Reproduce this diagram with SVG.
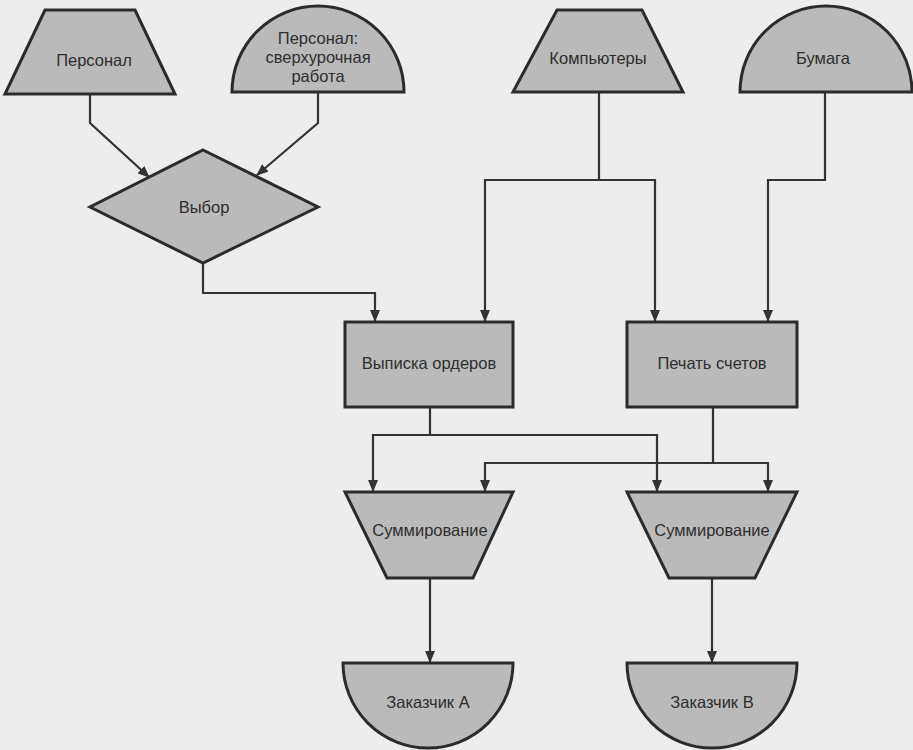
<svg xmlns="http://www.w3.org/2000/svg" width="913" height="750" viewBox="0 0 913 750">
<style>
.shape{fill:#bababa;stroke:#2b2b2b;stroke-width:3;stroke-linejoin:miter}
.lbl{font-family:"Liberation Sans",Arial,sans-serif;font-size:16.5px;fill:#2e2e2e;text-anchor:middle}
.conn{fill:none;stroke:#333;stroke-width:2.2}
</style>
<defs>
<marker id="arr" markerUnits="userSpaceOnUse" markerWidth="12" markerHeight="10" refX="11" refY="5" orient="auto">
<path d="M0,0 L12,5 L0,10 z" fill="#333"/>
</marker>
</defs>
<rect width="913" height="750" fill="#ededed"/>
<g id="connectors">
<path class="conn" d="M90,94 V123 L149,177" marker-end="url(#arr)"/>
<path class="conn" d="M318,92 V123 L257,175" marker-end="url(#arr)"/>
<path class="conn" d="M203,263 V293 H375 V321" marker-end="url(#arr)"/>
<path class="conn" d="M599,92 V180 H485 V321" marker-end="url(#arr)"/>
<path class="conn" d="M599,180 H655 V321" marker-end="url(#arr)"/>
<path class="conn" d="M825,92 V180 H768 V321" marker-end="url(#arr)"/>
<path class="conn" d="M430,407 V435 H373 V491" marker-end="url(#arr)"/>
<path class="conn" d="M430,435 H657 V491" marker-end="url(#arr)"/>
<path class="conn" d="M713,407 V463 H485 V491" marker-end="url(#arr)"/>
<path class="conn" d="M713,463 H768 V491" marker-end="url(#arr)"/>
<path class="conn" d="M430,578 V662" marker-end="url(#arr)"/>
<path class="conn" d="M712,578 V662" marker-end="url(#arr)"/>
</g>
<g id="personal">
<polygon class="shape" points="45,10 135,10 175,94 5,94"/>
<text class="lbl" x="94" y="66">Персонал</text>
</g>
<g id="overtime">
<path class="shape" d="M232,92 A86,86 0 0 1 404,92 Z"/>
<text class="lbl" x="318" y="44">Персонал:</text>
<text class="lbl" x="318" y="63">сверхурочная</text>
<text class="lbl" x="318" y="82">работа</text>
</g>
<g id="computers">
<polygon class="shape" points="557,10 642,10 683,92 513,92"/>
<text class="lbl" x="598" y="64">Компьютеры</text>
</g>
<g id="paper">
<path class="shape" d="M740,92 A86,86 0 0 1 912,92 Z"/>
<text class="lbl" x="823" y="64">Бумага</text>
</g>
<g id="choice">
<polygon class="shape" points="203,150 318,207 203,263 90,207"/>
<text class="lbl" x="204" y="213">Выбор</text>
</g>
<g id="orders">
<rect class="shape" x="345" y="322" width="168" height="85"/>
<text class="lbl" x="429" y="369">Выписка ордеров</text>
</g>
<g id="invoices">
<rect class="shape" x="627" y="322" width="170" height="85"/>
<text class="lbl" x="712" y="369">Печать счетов</text>
</g>
<g id="sumA">
<polygon class="shape" points="345,492 513,492 473,578 387,578"/>
<text class="lbl" x="430" y="536">Суммирование</text>
</g>
<g id="sumB">
<polygon class="shape" points="627,492 797,492 755,578 669,578"/>
<text class="lbl" x="712" y="536">Суммирование</text>
</g>
<g id="customerA">
<path class="shape" d="M343,663 A85,85 0 0 0 513,663 Z"/>
<text class="lbl" x="428" y="708">Заказчик А</text>
</g>
<g id="customerB">
<path class="shape" d="M627,663 A85,85 0 0 0 797,663 Z"/>
<text class="lbl" x="712" y="708">Заказчик В</text>
</g>
</svg>
